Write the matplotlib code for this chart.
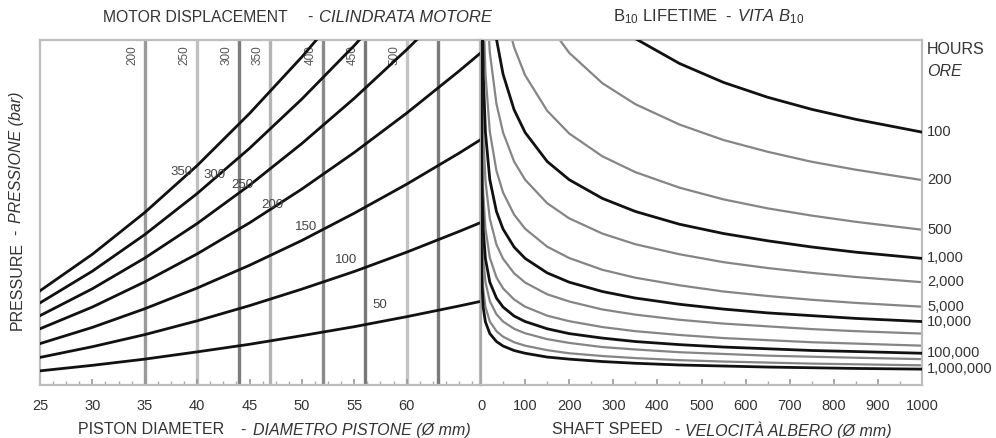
import matplotlib
matplotlib.use('Agg')
import matplotlib.pyplot as plt
import numpy as np

plt.rcParams['font.family'] = ['Liberation Sans', 'DejaVu Sans']
plt.rcParams['mathtext.fontset'] = 'custom'
plt.rcParams['mathtext.rm'] = 'Liberation Sans'
plt.rcParams['mathtext.it'] = 'Liberation Sans:italic'

# ---- left panel: piston diameter vs load, one curve per pressure (bar)
diam = [25, 30, 35, 40, 45, 50, 55, 60, 65, 67]
p50 = [4.1, 5.7, 7.5, 9.6, 11.8, 14.3, 16.9, 19.8, 22.9, 24.2]
p100 = [8.0, 11.1, 14.6, 18.6, 23.0, 27.8, 32.9, 38.5, 44.5, 47.0]
p150 = [12.0, 16.7, 22.1, 28.1, 34.7, 41.9, 49.8, 58.2, 67.2, 71.0]
p200 = [16.3, 22.6, 29.9, 38.0, 47.0, 56.8, 67.4, 78.8, 91.0, 96.1]
p250 = [20.1, 27.9, 36.8, 46.8, 57.9, 70.0, 83.1, 97.2, 112.2, None]
p300 = [23.8, 33.0, 43.6, 55.5, 68.6, 82.9, 98.4, 115.1, None, None]
p350 = [27.3, 37.9, 50.0, 63.6, 78.7, 95.1, 112.9, None, None, None]
press_curves = [p50, p100, p150, p200, p250, p300, p350]
press_labels = ['50', '100', '150', '200', '250', '300', '350']
press_lbl_d = [57.4, 54.2, 50.4, 47.2, 44.3, 41.7, 38.5]
press_lbl_v = [23.2, 36.2, 45.8, 52.2, 58.0, 60.9, 61.7]

# motor displacement lines
motor_diam = [35, 40, 44, 47, 52, 56, 60, 63]
motor_labels = ['200', '250', '300', '350', '400', '450', '500', '']

# ---- right panel: shaft speed vs load, one curve per B10 life (hours)
speed = [0.01, 0.1, 0.5, 2, 5, 10, 20, 35, 50, 75, 100, 150, 200, 275, 350, 450, 550, 650, 750, 850, 1000]
h100 = [None]*13 + [108.0, 100.4, 93.2, 87.7, 83.4, 79.9, 77.0, 73.3]
h200 = [None]*11 + [105.0, 96.3, 87.5, 81.4, 75.5, 71.0, 67.6, 64.7, 62.4, 59.4]
h500 = [None]*8 + [110.5, 97.9, 89.8, 79.5, 72.9, 66.3, 61.7, 57.2, 53.8, 51.2, 49.1, 47.3, 45.0]
h1000 = [None]*6 + [118.7, 100.3, 90.1, 79.8, 73.2, 64.8, 59.5, 54.1, 50.3, 46.6, 43.9, 41.8, 40.0, 38.5, 36.7]
h2000 = [None]*5 + [118.6, 96.4, 81.5, 73.2, 64.8, 59.5, 52.7, 48.3, 43.9, 40.8, 37.9, 35.6, 33.9, 32.5, 31.3, 29.8]
h5000 = [None]*4 + [111.2, 90.4, 73.4, 62.1, 55.8, 49.4, 45.3, 40.1, 36.8, 33.4, 31.1, 28.9, 27.1, 25.8, 24.7, 23.8, 22.7]
h10000 = [None]*3 + [118.7, 90.2, 73.3, 59.5, 50.3, 45.2, 40.0, 36.7, 32.5, 29.8, 27.1, 25.2, 23.4, 22.0, 20.9, 20.1, 19.3, 18.4]
h20000 = [None]*2 + [145.7, 96.1, 73.0, 59.3, 48.2, 40.7, 36.6, 32.4, 29.7, 26.3, 24.2, 21.9, 20.4, 18.9, 17.8, 17.0, 16.2, 15.6, 14.9]
h50000 = [None]*2 + [111.5, 73.6, 55.9, 45.4, 36.9, 31.2, 28.0, 24.8, 22.7, 20.1, 18.5, 16.8, 15.6, 14.5, 13.6, 13.0, 12.4, 12.0, 11.4]
h100000 = [None, 145.8, 90.0, 59.4, 45.1, 36.6, 29.8, 25.2, 22.6, 20.0, 18.4, 16.3, 14.9, 13.6, 12.6, 11.7, 11.0, 10.5, 10.0, 9.7, 9.2]
h200000 = [None, 118.9, 73.4, 48.4, 36.8, 29.9, 24.3, 20.5, 18.4, 16.3, 15.0, 13.3, 12.2, 11.0, 10.3, 9.5, 9.0, 8.5, 8.2, 7.9, 7.5]
h500000 = [180.2, 90.3, 55.7, 36.8, 27.9, 22.7, 18.4, 15.6, 14.0, 12.4, 11.4, 10.1, 9.2, 8.4, 7.8, 7.2, 6.8, 6.5, 6.2, 6.0, 5.7]
h1000000 = [145.5, 72.9, 45.0, 29.7, 22.5, 18.3, 14.9, 12.6, 11.3, 10.0, 9.2, 8.1, 7.5, 6.8, 6.3, 5.8, 5.5, 5.2, 5.0, 4.8, 4.6]
life_curves = [h100, h200, h500, h1000, h2000, h5000, h10000, h20000,
               h50000, h100000, h200000, h500000, h1000000]
life_labels = ['100', '200', '500', '1,000', '2,000', '5,000', '10,000', '',
               '', '100,000', '', '', '1,000,000']
life_bold = [True, False, False, True, False, False, True, False,
             False, True, False, False, True]

txt = '#333333'
spine_col = '#bdbdbd'

fig = plt.figure(figsize=(9.96, 4.38), dpi=100)
ax1 = fig.add_axes([40/996, 53/438, 440/996, 345/438])
ax2 = fig.add_axes([481/996, 53/438, 441/996, 345/438])

for ax in (ax1, ax2):
    ax.set_ylim(0, 100)
    ax.set_yticks([])
    for s in ax.spines.values():
        s.set_color(spine_col)
        s.set_linewidth(1.6)
    ax.tick_params(axis='x', direction='in', length=4, width=1.2, color='#999999',
                   labelsize=10.5, labelcolor=txt, pad=10)
    ax.tick_params(axis='x', which='minor', direction='in', length=3, width=1,
                   color='#aaaaaa')

# left panel
ax1.set_xlim(25, 67)
ax1.set_xticks([25, 30, 35, 40, 45, 50, 55, 60])
ax1.set_xticks(np.arange(26.25, 67, 1.25), minor=True)

vcols = ['#9a9a9a', '#c0c0c0', '#7c7c7c', '#b4b4b4', '#8a8a8a', '#787878', '#c4c4c4', '#7a7a7a']
for d, lab, c in zip(motor_diam, motor_labels, vcols):
    ax1.axvline(d, color=c, lw=2.4, zorder=1)
    if lab:
        ax1.text(d - 1.2, 95.5, lab, rotation=90, ha='center', va='center',
                 fontsize=8.5, color='#555555', zorder=2)

for vals in press_curves:
    y = np.array([np.nan if v is None else v for v in vals], dtype=float)
    ax1.plot(diam, y, color='#111111', lw=2.0, zorder=3)

for lab, d, v in zip(press_labels, press_lbl_d, press_lbl_v):
    ax1.text(d, v, lab, ha='center', va='center', fontsize=9.5, color='#444444', zorder=4)

# right panel
ax2.set_xlim(0, 1000)
ax2.set_xticks(np.arange(0, 1001, 100))
ax2.set_xticks(np.arange(50, 1000, 100), minor=True)
ax2.spines['left'].set_color('#a8a8a8')

for vals, lab, bold in zip(life_curves, life_labels, life_bold):
    y = np.array([np.nan if v is None else v for v in vals], dtype=float)
    if bold:
        ax2.plot(speed, y, color='#111111', lw=2.0, zorder=3)
    else:
        ax2.plot(speed, y, color='#858585', lw=1.6, zorder=2)
    if lab:
        ax2.text(1012, y[-1], lab, ha='left', va='center', fontsize=10.5,
                 color=txt, clip_on=False)

fig.text(927/996, 1 - 50/438, 'HOURS', ha='left', va='center', fontsize=11.5, color=txt)
fig.text(927/996, 1 - 71/438, 'ORE', ha='left', va='center', fontsize=11.5, color=txt,
         style='italic')

# titles
fig.text(103/996, 1 - 17/438, 'MOTOR DISPLACEMENT', ha='left', va='center',
         fontsize=11.3, color=txt)
fig.text(310/996, 1 - 17/438, '-', ha='center', va='center', fontsize=11.3, color=txt)
fig.text(319/996, 1 - 17/438, 'CILINDRATA MOTORE', ha='left', va='center',
         fontsize=12, color=txt, style='italic')

fig.text(613/996, 1 - 17/438, r'B$_{10}$ LIFETIME', ha='left', va='center',
         fontsize=12, color=txt)
fig.text(728/996, 1 - 17/438, '-', ha='center', va='center', fontsize=12, color=txt)
fig.text(737/996, 1 - 17/438, r'VITA B$_{10}$', ha='left', va='center',
         fontsize=12, color=txt, style='italic')

# x labels
fig.text(78/996, 1 - 430/438, 'PISTON DIAMETER', ha='left', va='center',
         fontsize=11.5, color=txt)
fig.text(243/996, 1 - 430/438, '-', ha='center', va='center', fontsize=11.5, color=txt)
fig.text(253/996, 1 - 430/438, 'DIAMETRO PISTONE (Ø mm)', ha='left', va='center',
         fontsize=11.5, color=txt, style='italic')

fig.text(552/996, 1 - 430/438, 'SHAFT SPEED', ha='left', va='center',
         fontsize=11.5, color=txt)
fig.text(677/996, 1 - 430/438, '-', ha='center', va='center', fontsize=11.5, color=txt)
fig.text(685/996, 1 - 430/438, 'VELOCITÀ ALBERO (Ø mm)', ha='left', va='center',
         fontsize=11.5, color=txt, style='italic')

# y label
fig.text(17/996, 1 - 330/438, 'PRESSURE', rotation=90, ha='center', va='bottom',
         fontsize=11.5, color=txt)
fig.text(17/996, 1 - 232/438, '-', rotation=90, ha='center', va='center',
         fontsize=11.5, color=txt)
fig.text(17/996, 1 - 223/438, 'PRESSIONE (bar)', rotation=90, ha='center', va='bottom',
         fontsize=11.5, color=txt, style='italic')

fig.savefig('out.png', dpi=100)
